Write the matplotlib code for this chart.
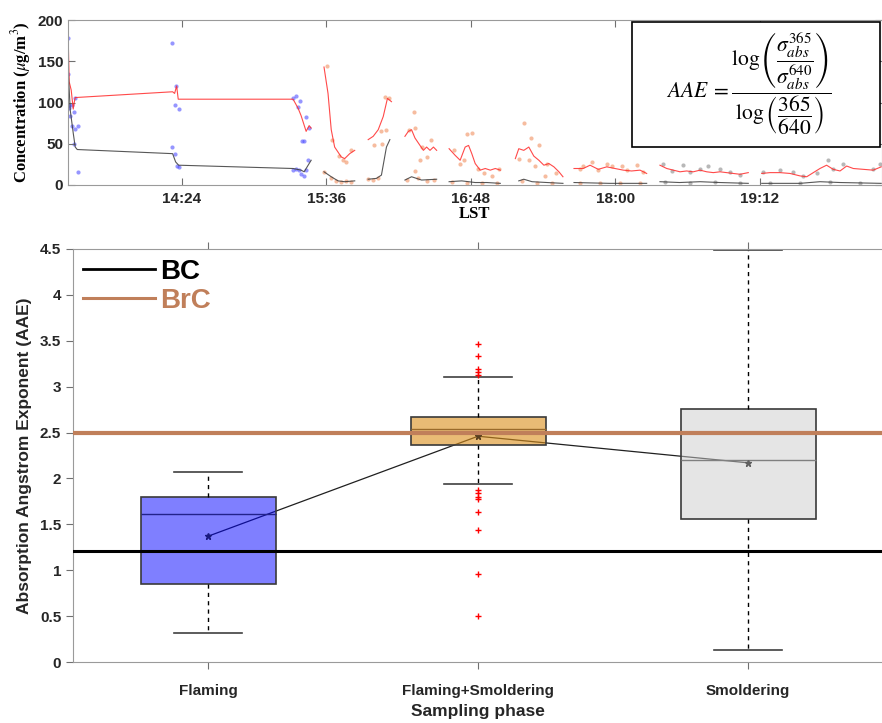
import matplotlib
matplotlib.use('Agg')
import matplotlib.pyplot as plt
from matplotlib.patches import Rectangle
from matplotlib.lines import Line2D
from matplotlib.ticker import FuncFormatter
import numpy as np

plt.rcParams['mathtext.fontset'] = 'stix'

nan = np.nan

# ---------------- top panel: concentrations vs local time (minutes after midnight) ----------------
brc_time = [807.5, 808, 809, 810, 810.5, 811, 859.5, 860.5, 861.5, 862.3, 919.5, 922, 923.5, 926, 927.5, 928.5, nan,
            934.9, 936.9, 938.5, 940.2, 943.5, 945.2, 947.7, 950.2, nan,
            956.9, 959.4, 961.9, 964.4, 966.5, 968.5, nan,
            975.2, 976.9, 978.5, 980.2, 982.7, 984.4, 986, 987.7, 989.4, 991, nan,
            997.2, 1000.2, 1002.7, 1005.2, 1006.9, 1008.5, 1010.2, 1012.7, 1015.2, 1017.7, 1020.2, 1022.7, nan,
            1030.2, 1031.9, 1034.4, 1036.9, 1039.4, 1041.9, 1044.4, 1046.9, 1049.4, 1051.9, 1053.9, nan,
            1059.4, 1064, 1067.4, 1071.5, 1075.7, 1079.8, 1084, 1088.1, 1092.3, 1095.6, nan,
            1102.2, 1105.6, 1108.9, 1112.2, 1115.5, 1118.8, 1122.2, 1125.5, 1128.8, 1132.1, 1135.4, 1138.7, 1142.1, 1146.2, nan,
            1152.9, 1157, 1162, 1167, 1172, 1175.3, 1178.6, 1181.9, 1185.2, 1188.5, 1191.9, 1195.2, 1198.5, 1208.4, 1212.4]
brc_conc = [178, 125, 115, 92, 100, 106, 113, 111, 120, 104, 104, 93, 84, 65, 72, 69, nan,
            143, 111, 67, 46, 34, 32, 38, 42, nan,
            55, 59, 67, 83, 105, 101, nan,
            59, 65, 67, 57, 48, 42, 46, 42, 46, 42, nan,
            44, 36, 30, 46, 48, 38, 26, 18, 20, 18, 20, 18, nan,
            32, 44, 42, 46, 35, 30, 24, 26, 22, 16, 10, nan,
            20, 20, 24, 19, 22, 20, 18, 17, 18, 14, nan,
            24, 20, 18, 16, 17, 16, 18, 16, 15, 16, 15, 14, 13, 15, nan,
            14, 15, 15, 14, 11, 10, 15, 20, 24, 19, 17, 23, 20, 18, 22]

bc_time = [807.6, 808.5, 810, 811, 812, 859.5, 861, 862.5, 919.5, 923.5, 925, 928.5, nan,
           934.9, 938.5, 941.9, 945.2, 950.2, nan,
           956.9, 961, 963.5, 966, 967.7, nan,
           975.2, 978.5, 981, 983.5, 991, nan,
           997.2, 1003.5, 1010.2, 1016, 1022.7, nan,
           1031.9, 1034.4, 1038.5, 1046, 1053.9, nan,
           1059.4, 1077, 1095.6, nan,
           1102.2, 1112, 1122.2, 1132, 1146.2, nan,
           1152.9, 1172, 1181.9, 1191.9, 1212.4]
bc_conc = [135, 91, 63, 46, 43, 38, 28, 24, 20, 18, 16, 30, nan,
           16, 10, 5, 4, 5, nan,
           7, 8, 12, 46, 55, nan,
           6, 10, 8, 6, 7, nan,
           4, 5, 3, 3, 2, nan,
           5, 7, 4, 3, 2, nan,
           3, 2, 2, nan,
           4, 3, 4, 3, 2, nan,
           2, 2, 4, 3, 2]

flaming_dot_time = [807.6, 807.6, 807.8, 808, 809.4, 811, 810.2, 808.2, 809.4, 811, 812.2, 810.2, 812.2,
                    859.4, 861.4, 860.5, 862.5, 859.4, 860.5, 861.9, 862.7,
                    919.7, 921, 922.7, 921.9, 925.7, 927.2, 923.9, 924.9, 926.9, 919.7, 921, 922.4, 923.2, 924.7, 926]
flaming_dot_conc = [178, 134, 97, 93, 97, 105, 89, 84, 72, 68, 71, 50, 16,
                    172, 120, 97, 92, 46, 37, 23, 22,
                    105, 108, 102, 95, 82, 69, 53, 53, 30, 18, 19, 18, 13, 11, 18]

mixed_dot_time = [936.5, 938.9, 946, 948.5, 934.9, 938.5, 941, 943.5, 946, 948.5, 942.5, 944.5,
                  959.9, 963.5, 966, 965.2, 967.4, 964, 957, 959.5, 962,
                  979.8, 977.2, 980.2, 982.7, 980.2, 986, 988.2, 983.5, 976, 981.5, 986, 989.5,
                  999.4, 1006, 1008.5, 1002.7, 1011.5, 1014.4, 1018.5, 1021.9, 1004.4, 998.5, 1006, 1013.5, 1021,
                  1034.4, 1038.2, 1031.9, 1036.9, 1040.2, 1046, 1045.2, 1050.2, 1041.9, 1033.5, 1041, 1048.5,
                  1068.2, 1064, 1075.7, 1078.1, 1083.1, 1090.6, 1062.4, 1071.5, 1085.6, 1093.9, 1062.4, 1072.3, 1082.3, 1092.3]
mixed_dot_conc = [144, 55, 28, 42, 16, 8, 5, 4, 5, 4, 35, 30,
                  48, 65, 67, 107, 105, 50, 7, 6, 8,
                  89, 67, 69, 30, 17, 34, 55, 46, 6, 8, 5, 6,
                  43, 62, 63, 26, 20, 14, 11, 20, 30, 4, 3, 2, 2,
                  75, 57, 32, 30, 23, 26, 11, 14, 48, 5, 3, 2,
                  28, 23, 26, 23, 23, 24, 20, 18, 18, 16, 2, 3, 2, 2]

smold_dot_time = [1103.9, 1113.8, 1126.3, 1117.2, 1122.2, 1132.1, 1137.1, 1142.1, 1108.4, 1104.7, 1117.2, 1129.6, 1142.1,
                  1153.7, 1162, 1168.6, 1186.1, 1193.5, 1188.5, 1180.3, 1208.4, 1211.7, 1173.6, 1157, 1172, 1186.9, 1201.8]
smold_dot_conc = [25, 24, 23, 16, 20, 19, 16, 12, 17, 4, 3, 4, 2,
                  16, 18, 16, 30, 26, 19, 15, 20, 26, 11, 2, 3, 4, 3]

time_ticks = [864, 936, 1008, 1080, 1152]

# ---------------- bottom panel: AAE box statistics per sampling phase ----------------
phases = ['Flaming', 'Flaming+Smoldering', 'Smoldering']
aae_q1 = [0.85, 2.36, 1.56]
aae_median = [1.61, 2.54, 2.20]
aae_q3 = [1.80, 2.67, 2.76]
aae_whislo = [0.32, 1.94, 0.13]
aae_whishi = [2.07, 3.10, 4.49]
aae_mean = [1.37, 2.46, 2.17]
aae_outliers = [[], [3.47, 3.33, 3.19, 3.16, 3.13, 1.87, 1.84, 1.80, 1.78, 1.63, 1.44, 0.96, 0.50], []]
bc_aae = 1.21
brc_aae = 2.50

box_face = [(0.0, 0.0, 1.0, 0.5), (0.86, 0.56, 0.10, 0.6), (0.80, 0.80, 0.80, 0.5)]
box_median = ['#22228a', '#9a6a2a', '#808080']
mean_color = ['#1a1a80', '#5a4020', '#606060']
brc_color = '#c07f5a'
label_color = '#262626'
spine_color = '#9a9a9a'

fig = plt.figure(figsize=(8.82, 7.23), dpi=100)

# ---- top panel ----
ax1 = fig.add_axes([68 / 882, 1 - 185 / 723, (882 - 68) / 882, (185 - 20) / 723])
ax1.plot(brc_time, brc_conc, color='#ff2a2a', lw=0.8, alpha=0.85)
ax1.plot(bc_time, bc_conc, color='#3a3a3a', lw=0.8, alpha=0.85)
ax1.scatter(flaming_dot_time, flaming_dot_conc, s=9, color='#5050ff', alpha=0.6, lw=0)
ax1.scatter(mixed_dot_time, mixed_dot_conc, s=9, color='#f09060', alpha=0.6, lw=0)
ax1.scatter(smold_dot_time, smold_dot_conc, s=9, color='#8a8a8a', alpha=0.6, lw=0)
ax1.set_xlim(807.4, 1212.8)
ax1.set_ylim(0, 200)
ax1.set_yticks([0, 50, 100, 150, 200])
ax1.set_xticks(time_ticks)
ax1.xaxis.set_major_formatter(FuncFormatter(lambda m, pos: '%d:%02d' % (int(m // 60), int(round(m % 60)))))
ax1.tick_params(direction='in', top=True, right=True, length=5, color='#707070', labelcolor=label_color,
                labelsize=11)
ax1.tick_params(axis='x', pad=5)
for lab in ax1.get_xticklabels() + ax1.get_yticklabels():
    lab.set_fontfamily('Liberation Sans')
    lab.set_fontweight('bold')
for sp in ax1.spines.values():
    sp.set_color(spine_color)
ax1.set_xlabel('LST', fontfamily='Liberation Serif', fontweight='bold', fontsize=12, labelpad=0)
ax1.set_ylabel(r'Concentration ($\mu$g/m$^3$)', fontfamily='Liberation Serif', fontweight='bold',
               fontsize=12, labelpad=3)

# formula box
fig.patches.append(Rectangle((632 / 882, 1 - 147 / 723), (880 - 632) / 882, (147 - 22) / 723,
                             transform=fig.transFigure, fill=True, facecolor='white', edgecolor='black',
                             lw=1.2, zorder=5))
fig.text(749 / 882, 1 - 84 / 723,
         r'$AAE\;=\dfrac{\log\left(\dfrac{\sigma_{abs}^{365}}{\sigma_{abs}^{640}}\right)}'
         r'{\log\left(\dfrac{365}{640}\right)}$',
         ha='center', va='center', fontsize=15.5, zorder=6)

# ---- bottom panel ----
ax2 = fig.add_axes([73 / 882, 1 - 662 / 723, (883 - 73) / 882, (662 - 249) / 723])
positions = [1, 2, 3]
stats = []
for i in range(len(phases)):
    stats.append(dict(med=aae_median[i], q1=aae_q1[i], q3=aae_q3[i], whislo=aae_whislo[i],
                      whishi=aae_whishi[i], mean=aae_mean[i], fliers=aae_outliers[i], label=phases[i]))

ax2.plot(positions, aae_mean, color='#202020', lw=0.9, zorder=1.5)
bp = ax2.bxp(stats, positions=positions, widths=0.5, capwidths=0.25, patch_artist=True, showmeans=True,
             whiskerprops=dict(color='black', linestyle=(0, (3, 3)), lw=1.0),
             capprops=dict(color='#404040', lw=1.2),
             flierprops=dict(marker='+', markeredgecolor='red', markersize=4, mew=1.0),
             meanprops=dict(marker='*', markersize=5),
             medianprops=dict(lw=1.0))
for i, box in enumerate(bp['boxes']):
    box.set_facecolor(box_face[i])
    box.set_edgecolor('#3a3a3a')
    box.set_linewidth(1.2)
    box.set_zorder(2)
for i, m in enumerate(bp['medians']):
    m.set_color(box_median[i])
    m.set_zorder(2.5)
for i, m in enumerate(bp['means']):
    m.set_markerfacecolor(mean_color[i])
    m.set_markeredgecolor(mean_color[i])
    m.set_zorder(3)

ax2.axhline(bc_aae, color='black', lw=2.2, zorder=4)
ax2.axhline(brc_aae, color=brc_color, lw=3.0, zorder=4)

ax2.set_xlim(0.5, 3.5)
ax2.set_ylim(0, 4.5)
yt = np.arange(0, 4.51, 0.5)
ax2.set_yticks(yt)
ax2.set_yticklabels(['%g' % v for v in yt])
ax2.set_xticks(positions)
ax2.set_xticklabels(phases)
ax2.tick_params(direction='out', top=True, length=5, color='#707070', labelcolor=label_color, labelsize=11)
ax2.tick_params(axis='x', pad=11)
for lab in ax2.get_xticklabels() + ax2.get_yticklabels():
    lab.set_fontfamily('Liberation Sans')
    lab.set_fontweight('bold')
for sp in ax2.spines.values():
    sp.set_color(spine_color)
ax2.set_ylabel('Absorption Angstrom Exponent (AAE)', fontfamily='Liberation Sans', fontweight='bold',
               fontsize=12.5, color=label_color, labelpad=6)
ax2.set_xlabel('Sampling phase', fontfamily='Liberation Sans', fontweight='bold', fontsize=12.5,
               color=label_color, labelpad=4)

legend_handles = [Line2D([], [], color='black', lw=2.0), Line2D([], [], color=brc_color, lw=2.2)]
ax2.legend(legend_handles, ['BC', 'BrC'], loc='upper left', frameon=False, labelcolor='linecolor',
           prop=dict(family='Liberation Sans', weight='bold', size=20), handlelength=2.6,
           handletextpad=0.2, labelspacing=0.12, borderpad=0.2, borderaxespad=0.15)

fig.savefig('out.png', dpi=100)
